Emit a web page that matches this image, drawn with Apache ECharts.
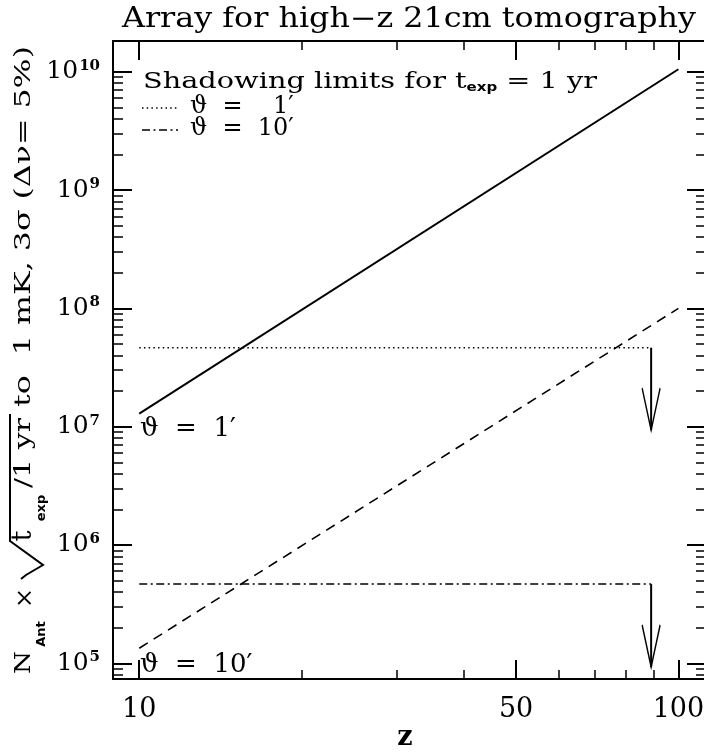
<!DOCTYPE html>
<html>
<head>
<meta charset="utf-8">
<script src="https://cdn.jsdelivr.net/npm/echarts@6/dist/echarts.min.js"></script>
<style>
html,body{margin:0;padding:0;background:#fff;}
#chart{width:704px;height:752px;}
</style>
</head>
<body>
<div id="chart"></div>
<script>
// ---- data ----
const zEnds = [10, 100];
const arraySolid = [1.29e7, 1.05e10];      // solid line
const arrayDashed = [1.34e5, 1.0e8];       // dashed line
const shadowZ = [10, 89];                  // extent of shadowing limits
const shadowLimit1 = [4.65e7, 4.65e7];     // theta = 1'
const shadowLimit10 = [4.67e5, 4.67e5];    // theta = 10'
const arrowZ = 89;
const arrowTip1 = 9.35e6;
const arrowTip10 = 9.3e4;

// ---- axes ----
const xRange = [8.94, 112.5];
const yRange = [7.36e4, 1.82e10];
const xMajorTicks = [10, 50, 100];
const xMinorTicks = [20, 30, 40, 60, 70, 80, 90];
const yMajorTicks = [1e5, 1e6, 1e7, 1e8, 1e9, 1e10];
const yDecades = [1e4, 1e5, 1e6, 1e7, 1e8, 1e9, 1e10];
const yMinorMult = [2, 3, 4, 5, 6, 7, 8, 9];
const yMinorTicks = [];
yDecades.forEach(d => yMinorMult.forEach(m => { const v = d * m; if (v > yRange[0] && v < yRange[1]) yMinorTicks.push(v); }));

const FONT = 'DejaVu Serif';
const SANS = 'DejaVu Sans';
const black = '#000';

const mctx = document.createElement('canvas').getContext('2d');
function tw(text, font) { mctx.font = font; return mctx.measureText(text).width; }

const chart = echarts.init(document.getElementById('chart'));

function xAx(pos, ticks, len, width, labels, line) {
  return {
    type: 'log', position: pos, min: xRange[0], max: xRange[1],
    axisLine: {show: line, lineStyle: {color: black, width: 2}},
    axisTick: {show: true, inside: true, length: len, lineStyle: {color: black, width: width}, customValues: ticks},
    axisLabel: labels ? {show: true, customValues: ticks, margin: 17, color: black, fontFamily: FONT, fontSize: 27} : {show: false},
    splitLine: {show: false}, minorTick: {show: false}
  };
}
function yAx(pos, ticks, len, width, labels, line) {
  return {
    type: 'log', position: pos, min: yRange[0], max: yRange[1],
    axisLine: {show: line, lineStyle: {color: black, width: 2}},
    axisTick: {show: true, inside: true, length: len, lineStyle: {color: black, width: width}, customValues: ticks},
    axisLabel: labels ? {
      show: true, customValues: ticks, margin: 13,
      formatter: v => '{b|10}{s|' + Math.round(Math.log10(v)) + '}',
      rich: {
        b: {fontFamily: FONT, fontSize: 25, color: black},
        s: {fontFamily: FONT, fontSize: 15, fontWeight: 'bold', color: black, padding: [0, 0, 12, 1]}
      }
    } : {show: false},
    splitLine: {show: false}, minorTick: {show: false}
  };
}

function arrowHead() {
  return {
    symbol: 'path://M0,0 L9,42 L18,0',
    symbolSize: [18, 42],
    symbolOffset: [0, -21],
    symbolKeepAspect: false,
    itemStyle: {color: 'rgba(0,0,0,0)', borderColor: black, borderWidth: 2}
  };
}

// horizontal text fitted between left and right edges
function hText(text, font, fontSize, weight, left, right, y) {
  const w = tw(text, (weight === 'bold' ? 'bold ' : '') + fontSize + 'px ' + font);
  return {type: 'text', x: left, y: y, scaleX: (right - left) / w,
    style: {text: text, fontFamily: font, fontSize: fontSize, fontWeight: weight || 'normal', fill: black, align: 'left', verticalAlign: 'middle'}};
}
// vertical (reading upwards) text fitted between yBottom and yTop
function vText(text, font, fontSize, weight, cx, yBottom, yTop) {
  const w = tw(text, (weight === 'bold' ? 'bold ' : '') + fontSize + 'px ' + font);
  return {type: 'text', x: cx, y: (yBottom + yTop) / 2, rotation: Math.PI / 2, scaleX: (yBottom - yTop) / w,
    style: {text: text, fontFamily: font, fontSize: fontSize, fontWeight: weight || 'normal', fill: black, align: 'center', verticalAlign: 'middle'}};
}
// vertical text with natural width, centred at yc
function vGlyph(text, font, fontSize, weight, cx, yc) {
  return {type: 'text', x: cx, y: yc, rotation: Math.PI / 2,
    style: {text: text, fontFamily: font, fontSize: fontSize, fontWeight: weight || 'normal', fill: black, align: 'center', verticalAlign: 'middle'}};
}

// legend line 1 (rich) width
const leg1a = 'Shadowing limits for t', leg1b = 'exp', leg1c = ' = 1 yr';
const leg1w = tw(leg1a, '23px ' + FONT) + tw(leg1b, 'bold 12px ' + SANS) + tw(leg1c, '23px ' + FONT);

const Y_MAIN = 24.5, Y_SUB = 42;

const option = {
  animation: false,
  backgroundColor: '#fff',
  grid: {left: 113, top: 41, width: 593, height: 638, containLabel: false, outerBoundsMode: 'none'},
  xAxis: [
    xAx('bottom', xMajorTicks, 19, 2, true, true),
    xAx('bottom', xMinorTicks, 9, 1.5, false, false),
    xAx('top', xMajorTicks, 19, 2, false, true),
    xAx('top', xMinorTicks, 9, 1.5, false, false)
  ],
  yAxis: [
    yAx('left', yMajorTicks, 19, 2, true, true),
    yAx('left', yMinorTicks, 10, 1.5, false, false),
    yAx('right', yMajorTicks, 19, 2, false, true),
    yAx('right', yMinorTicks, 10, 1.5, false, false)
  ],
  series: [
    {type: 'line', name: 'solid', data: zEnds.map((z, i) => [z, arraySolid[i]]), showSymbol: false, symbol: 'none',
     lineStyle: {color: black, width: 2}},
    {type: 'line', name: 'dashed', data: zEnds.map((z, i) => [z, arrayDashed[i]]), showSymbol: false, symbol: 'none',
     lineStyle: {color: black, width: 1.6, type: [10, 7]}},
    {type: 'line', name: 'theta1', data: shadowZ.map((z, i) => [z, shadowLimit1[i]]), showSymbol: false, symbol: 'none',
     lineStyle: {color: black, width: 1.6, type: [1.5, 3.2]}},
    {type: 'line', name: 'theta10', data: shadowZ.map((z, i) => [z, shadowLimit10[i]]), showSymbol: false, symbol: 'none',
     lineStyle: {color: black, width: 1.6, type: [8, 3.5, 2, 3.5]}},
    {type: 'line', name: 'arrow1', symbol: 'none', showSymbol: true,
     data: [{value: [arrowZ, shadowLimit1[1]], symbol: 'none'}, Object.assign({value: [arrowZ, arrowTip1]}, arrowHead())],
     lineStyle: {color: black, width: 2}},
    {type: 'line', name: 'arrow10', symbol: 'none', showSymbol: true,
     data: [{value: [arrowZ, shadowLimit10[1]], symbol: 'none'}, Object.assign({value: [arrowZ, arrowTip10]}, arrowHead())],
     lineStyle: {color: black, width: 2}}
  ],
  graphic: [
    // title
    hText('Array for high\u2212z 21cm tomography', FONT, 27, 'normal', 122, 696, 20),
    // x axis name
    {type: 'text', x: 405, y: 738, style: {text: 'z', fontFamily: FONT, fontSize: 27, fontWeight: 'bold', fill: black, align: 'center', verticalAlign: 'middle'}},
    // legend
    {type: 'text', x: 143, y: 82, scaleX: 454 / leg1w, style: {
      text: leg1a + '{sub|' + leg1b + '}' + leg1c,
      fontFamily: FONT, fontSize: 23, fill: black, align: 'left', verticalAlign: 'middle',
      rich: {sub: {fontFamily: SANS, fontSize: 12, fontWeight: 'bold', fill: black, padding: [12, 0, 0, 0]}}
    }},
    {type: 'line', shape: {x1: 142, y1: 108, x2: 178, y2: 108}, style: {stroke: black, lineWidth: 1.6, lineDash: [1.5, 3.2]}},
    {type: 'text', x: 190, y: 107, style: {text: '\u03d1  =    1\u2032', fontFamily: FONT, fontSize: 24, fill: black, verticalAlign: 'middle'}},
    {type: 'line', shape: {x1: 142, y1: 130, x2: 178, y2: 130}, style: {stroke: black, lineWidth: 1.6, lineDash: [8, 3.5, 2, 3.5]}},
    {type: 'text', x: 190, y: 129, style: {text: '\u03d1  =  10\u2032', fontFamily: FONT, fontSize: 24, fill: black, verticalAlign: 'middle'}},
    // in-plot labels
    {type: 'text', x: 140, y: 429, style: {text: '\u03d1  =  1\u2032', fontFamily: FONT, fontSize: 26, fill: black, verticalAlign: 'middle'}},
    {type: 'text', x: 140, y: 665, style: {text: '\u03d1  =  10\u2032', fontFamily: FONT, fontSize: 26, fill: black, verticalAlign: 'middle'}},
    // y axis title, pieces reading upwards
    vText('N', FONT, 22, 'normal', Y_MAIN, 674, 651),
    vGlyph('Ant', SANS, 13, 'bold', Y_SUB, 634),
    vGlyph('\u00d7', FONT, 24, 'normal', Y_MAIN + 1, 598),
    {type: 'polyline', shape: {points: [[21, 579], [26, 575], [43, 565], [10, 541], [10, 414]]}, style: {stroke: black, fill: null, lineWidth: 2}},
    vGlyph('t', FONT, 27, 'normal', Y_MAIN - 1, 536),
    vGlyph('exp', SANS, 13, 'bold', Y_SUB, 508),
    vText('/1 yr', FONT, 22, 'normal', Y_MAIN, 488, 418),
    vText('to  1 mK, 3\u03c3 (\u0394\u03bd= 5%)', FONT, 22, 'normal', Y_MAIN, 407, 46)
  ]
};
chart.setOption(option);
</script>
</body>
</html>
